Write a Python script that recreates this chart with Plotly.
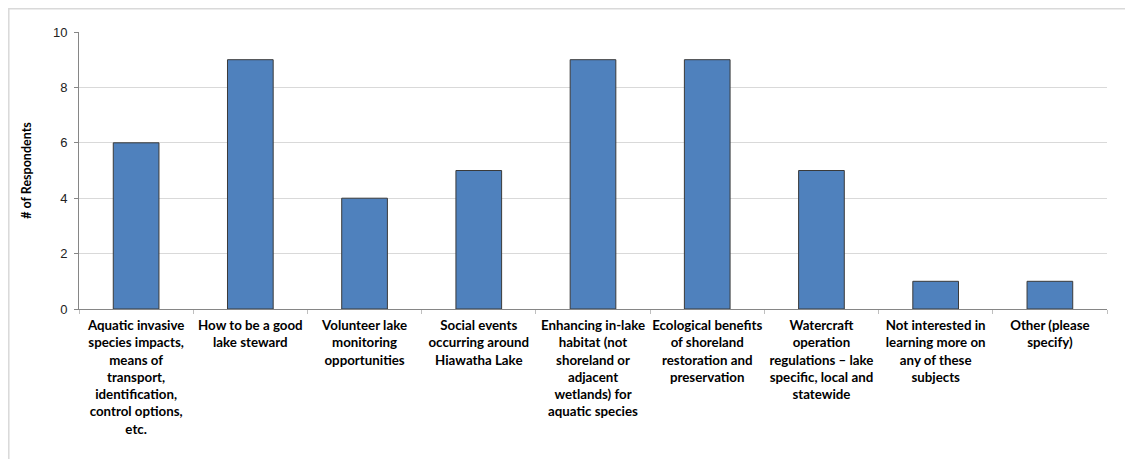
import plotly.graph_objects as go

categories = [
    "Aquatic invasive<br>species impacts,<br>means of<br>transport,<br>identification,<br>control options,<br>etc.",
    "How to be a good<br>lake steward",
    "Volunteer lake<br>monitoring<br>opportunities",
    "Social events<br>occurring around<br>Hiawatha Lake",
    "Enhancing in-lake<br>habitat (not<br>shoreland or<br>adjacent<br>wetlands) for<br>aquatic species",
    "Ecological benefits<br>of shoreland<br>restoration and<br>preservation",
    "Watercraft<br>operation<br>regulations – lake<br>specific, local and<br>statewide",
    "Not interested in<br>learning more on<br>any of these<br>subjects",
    "Other (please<br>specify)",
]
values = [6, 9, 4, 5, 9, 9, 5, 1, 1]
y_ticks = [0, 2, 4, 6, 8, 10]

fig = go.Figure()
fig.add_trace(go.Bar(
    x=categories, y=values,
    marker=dict(color="#4F81BD", line=dict(color="#3A3A3A", width=1)),
))

fig.update_layout(
    width=1133, height=459,
    margin=dict(l=71, r=34, t=24, b=158),
    paper_bgcolor="white", plot_bgcolor="white",
    bargap=0.6,
    showlegend=False,
    font=dict(family="Lato, Liberation Sans, sans-serif", color="#000000"),
    shapes=[dict(type="rect", xref="paper", yref="paper",
                 x0=-0.0683, x1=1.05, y0=-0.6, y1=1.0839,
                 line=dict(color="#D9D9D9", width=1.5), fillcolor="rgba(0,0,0,0)",
                 layer="below")],
)
fig.update_yaxes(
    range=[0, 10], tickvals=y_ticks,
    showgrid=True, gridcolor="#D9D9D9", gridwidth=1,
    showline=True, linecolor="#868686", linewidth=1,
    ticks="outside", ticklen=4, tickcolor="#868686",
    ticklabelstandoff=4,
    tickfont=dict(family="Liberation Sans, Arial, sans-serif", size=13, color="#222222"),
    title=dict(text="<b># of Respondents</b>", font=dict(family="Lato, sans-serif", size=12.5), standoff=18),
    zeroline=False,
)
fig.update_xaxes(
    showline=True, linecolor="#868686", linewidth=1,
    ticks="outside", ticklen=4, tickcolor="#BFBFBF", tickson="boundaries",
    ticklabelstandoff=4,
    tickfont=dict(family="Lato, sans-serif", size=13.3, color="#000000"),
    tickangle=0,
)
# bold tick labels
fig.update_xaxes(ticktext=["<b>" + c + "</b>" for c in categories], tickvals=categories)

fig.write_html("out.html")
